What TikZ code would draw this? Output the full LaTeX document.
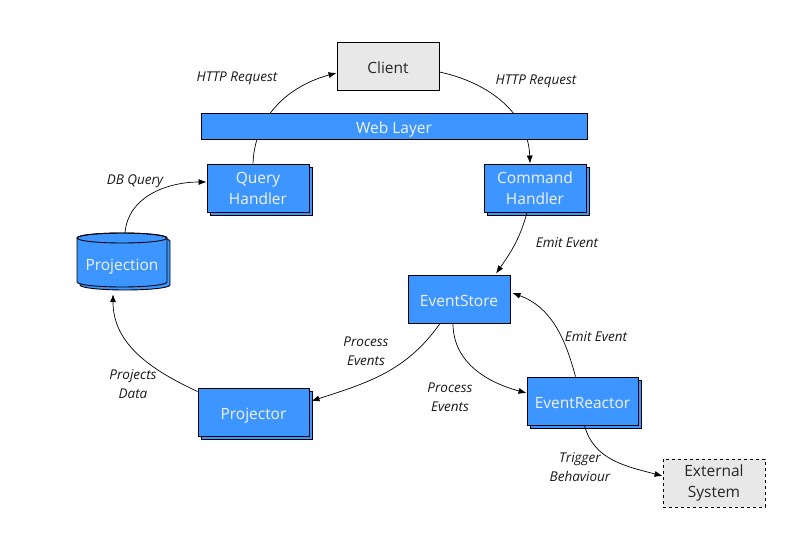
\documentclass[tikz,border=0pt]{standalone}
\usepackage{fontspec}
\setmainfont{Open Sans}
\usetikzlibrary{arrows.meta,shadows,positioning}
\definecolor{nblue}{HTML}{3D96FF}
\definecolor{ngray}{HTML}{E8E8E8}
\definecolor{ntext}{HTML}{F2F2F2}
\tikzset{
  bluebox/.style={draw=black, line width=0.9pt, fill=nblue, text=ntext, align=center, inner sep=0pt, font=\fontsize{15.5}{21}\selectfont},
  shadowed/.style={copy shadow={shadow xshift=3pt, shadow yshift=-3pt, fill=nblue, draw=black, line width=0.9pt}},
  graybox/.style={draw=black, line width=0.9pt, fill=ngray, text=black!85, align=center, inner sep=0pt, font=\fontsize{15.5}{21}\selectfont},
  oneline/.style={text height=14pt, text depth=0pt},
  lbl/.style={font=\itshape\fontsize{13.5}{19}\selectfont, align=center, text=black!90},
  arr/.style={-{Latex[length=8pt,width=6pt]}, line width=0.7pt},
}
\begin{document}
\begin{tikzpicture}[x=1pt,y=1pt]
\useasboundingbox (0,0) rectangle (806,-536);
\fill[white] (0,0) rectangle (806,-536);

% nodes
\node[graybox, oneline, minimum width=102pt, minimum height=48pt] (client) at (388,-66) {Client};
\node[bluebox, shadowed, minimum width=102pt, minimum height=48pt] (qh) at (258,-188) {Query\\Handler};
\node[bluebox, shadowed, minimum width=102pt, minimum height=48pt] (ch) at (535,-188) {Command\\Handler};
\node[bluebox, oneline, minimum width=102pt, minimum height=48pt] (es) at (459,-299) {EventStore};
\node[bluebox, oneline, shadowed, minimum width=111pt, minimum height=48pt] (er) at (582.5,-401) {EventReactor};
\node[bluebox, oneline, shadowed, minimum width=111pt, minimum height=48pt] (pr) at (253.5,-412) {Projector};
\node[graybox, dashed, minimum width=102pt, minimum height=48pt] (ext) at (714,-483) {External\\System};

% cylinder Projection
\begin{scope}[shift={(3,-3)}]
\path[fill=nblue, draw=black, line width=0.9pt] (77,-238) -- (77,-282) arc[start angle=180, end angle=360, x radius=45pt, y radius=5pt] -- (167,-238) arc[start angle=0, end angle=180, x radius=45pt, y radius=5pt] -- cycle;
\end{scope}
\path[fill=nblue, draw=black, line width=0.9pt] (77,-238) -- (77,-282) arc[start angle=180, end angle=360, x radius=45pt, y radius=5pt] -- (167,-238) arc[start angle=0, end angle=180, x radius=45pt, y radius=5pt] -- cycle;
\draw[line width=0.9pt] (122,-238) ellipse[x radius=45pt, y radius=5pt];
\node[inner sep=0pt, oneline, minimum width=90pt, minimum height=60pt, text=ntext, font=\fontsize{15.5}{21}\selectfont] (proj) at (122,-263) {Projection};

% connectors through web layer (drawn before it)
\draw[arr] ([xshift=-5pt]qh.north) to[out=88, in=195] ([yshift=-7pt]client.west);
\draw[arr] ([yshift=-6pt]client.east) to[out=-12, in=92] ([xshift=-5pt]ch.north);

\node[bluebox, oneline, minimum width=386pt, minimum height=26pt] (web) at (394,-126) {Web Layer};

\draw[arr] ([xshift=3pt]proj.north) to[out=85, in=180] ([yshift=6pt]qh.west);
\draw[arr] ([yshift=-4pt]pr.north west) to[out=155, in=-90] ([xshift=-9pt,yshift=-1pt]proj.south);
\draw[arr] ([xshift=-19pt]es.south) to[out=-125, in=18] ([xshift=2pt,yshift=11pt]pr.east);
\draw[arr] ([xshift=-6pt]es.south) to[out=-90, in=165] ([yshift=8pt]er.west);
\draw[arr] ([xshift=-7pt]er.north) to[out=105, in=-20] ([xshift=2pt,yshift=6pt]es.east);
\draw[arr] ([xshift=-8pt]ch.south) to[out=-105, in=55] ([xshift=37pt,yshift=1pt]es.north);
\draw[arr] ([xshift=2pt]er.south) to[out=-75, in=165] ([yshift=7pt]ext.west);

% labels
\node[lbl] (l1) at (237,-78) {HTTP Request};
\node[lbl] (l2) at (536,-81) {HTTP Request};
\node[lbl] (l3) at (135,-181) {DB Query};
\node[lbl] (l4) at (567,-243) {Emit Event};
\node[lbl] (l5) at (366,-351) {Process\\Events};
\node[lbl] (l6) at (450,-397) {Process\\Events};
\node[lbl] (l7) at (596,-337) {Emit Event};
\node[lbl] (l8) at (133,-384) {Projects\\Data};
\node[lbl] (l9) at (580,-467) {Trigger\\Behaviour};
\end{tikzpicture}
\end{document}
